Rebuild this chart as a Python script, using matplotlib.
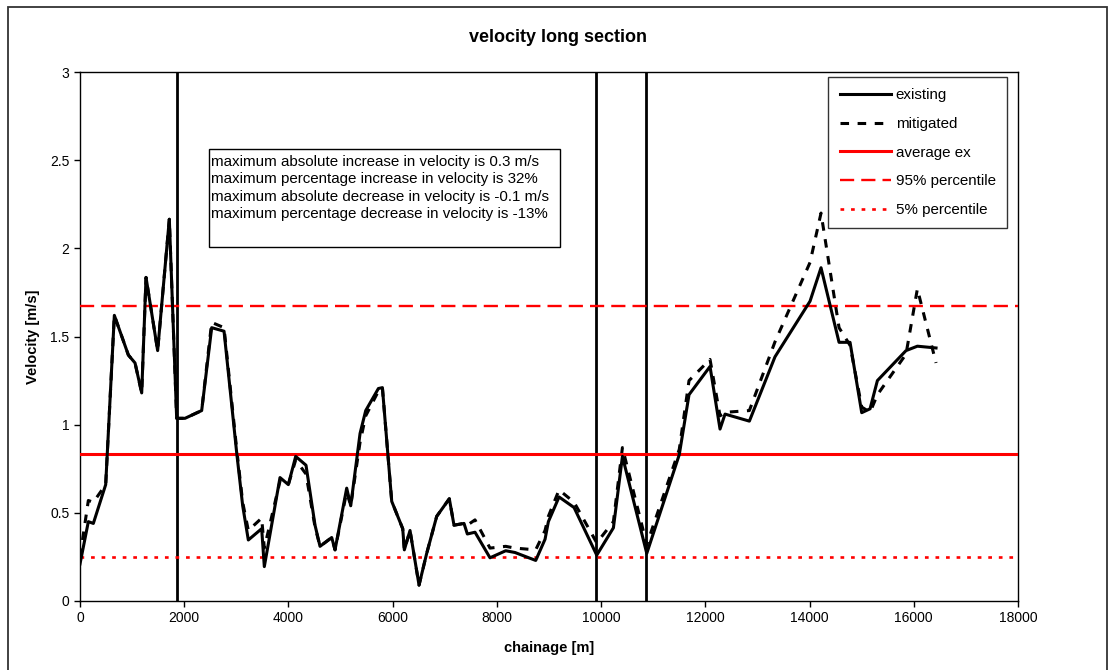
import matplotlib
matplotlib.use("Agg")
import matplotlib.pyplot as plt
from matplotlib.patches import Rectangle

plt.rcParams['font.family'] = ['Liberation Sans', 'DejaVu Sans']

# chainage [m] and velocities [m/s]
chainage = [0, 160, 256, 493, 659, 928, 1056, 1184, 1267, 1490, 1714, 1855, 2015, 2335,
            2527, 2764, 3007, 3122, 3230, 3486, 3537, 3838, 3998, 4139, 4337, 4510, 4606,
            4830, 4894, 5118, 5195, 5374, 5483, 5726, 5803, 5982, 6193, 6224, 6333, 6506,
            6653, 6845, 7087, 7177, 7369, 7433, 7580, 7868, 8169, 8348, 8745, 8924, 8988,
            9193, 9481, 9916, 10236, 10409, 10876, 11500, 11687, 12090, 12282, 12378,
            12845, 13337, 14009, 14220, 14566, 14777, 15001, 15161, 15302, 15851, 16069,
            16427]

existing = [0.21, 0.45, 0.44, 0.66, 1.62, 1.395, 1.35, 1.18, 1.835, 1.42, 2.165, 1.036,
            1.036, 1.08, 1.55, 1.53, 0.84, 0.54, 0.346, 0.41, 0.195, 0.70, 0.66, 0.82, 0.77,
            0.43, 0.31, 0.36, 0.29, 0.64, 0.54, 0.95, 1.08, 1.205, 1.21, 0.565, 0.41, 0.29,
            0.40, 0.09, 0.27, 0.48, 0.58, 0.43, 0.44, 0.38, 0.39, 0.245, 0.285, 0.275, 0.23,
            0.35, 0.45, 0.59, 0.53, 0.26, 0.415, 0.82, 0.27, 0.83, 1.17, 1.33, 0.975, 1.06,
            1.02, 1.385, 1.70, 1.89, 1.467, 1.467, 1.068, 1.09, 1.25, 1.42, 1.445, 1.435]

mitigated = [0.25, 0.57, 0.56, 0.66, 1.62, 1.395, 1.35, 1.18, 1.835, 1.42, 2.165, 1.036,
             1.036, 1.08, 1.58, 1.55, 0.86, 0.56, 0.40, 0.47, 0.30, 0.68, 0.66, 0.80, 0.72,
             0.42, 0.31, 0.36, 0.29, 0.62, 0.54, 0.90, 1.05, 1.19, 1.21, 0.565, 0.41, 0.29,
             0.40, 0.09, 0.27, 0.48, 0.58, 0.43, 0.44, 0.43, 0.46, 0.30, 0.31, 0.30, 0.29,
             0.40, 0.48, 0.63, 0.56, 0.33, 0.45, 0.87, 0.32, 0.86, 1.25, 1.37, 1.05, 1.07,
             1.08, 1.47, 1.92, 2.20, 1.55, 1.45, 1.10, 1.07, 1.17, 1.40, 1.77, 1.35]

average_ex = 0.833
pct95 = 1.673
pct5 = 0.251
structures = [1860, 9905, 10865]

summary_lines = [
    "maximum absolute increase in velocity is 0.3 m/s",
    "maximum percentage increase in velocity is 32%",
    "maximum absolute decrease in velocity is -0.1 m/s",
    "maximum percentage decrease in velocity is -13%",
]

W, H = 1108, 670
fig = plt.figure(figsize=(W / 100, H / 100), dpi=100)
ax = fig.add_axes([80 / W, 69 / H, 938 / W, 529 / H])

# chart-area frame
fig.patches.append(Rectangle((8 / W, -0.01), 1099 / W, (663 / H) + 0.01,
                             transform=fig.transFigure, fill=False,
                             edgecolor='#333333', linewidth=1.3))

for xs in structures:
    ax.axvline(xs, color='black', linewidth=2.0, zorder=2)

ax.plot(chainage, existing, color='black', linewidth=2.2, label='existing', zorder=4)
ax.plot(chainage, mitigated, color='black', linewidth=2.2, linestyle=(0, (2.8, 2.8)),
        label='mitigated', zorder=3)
ax.axhline(average_ex, color='#ff0000', linewidth=2.2, label='average ex', zorder=3)
ax.axhline(pct95, color='#ff0000', linewidth=1.7, linestyle=(0, (6, 3)),
           label='95% percentile', zorder=3)
ax.axhline(pct5, color='#ff0000', linewidth=1.9, linestyle=(0, (1.4, 2.6)),
           label='5% percentile', zorder=3)

ax.set_xlim(0, 18000)
ax.set_ylim(0, 3)
ax.set_xticks(range(0, 18001, 2000))
ax.set_yticks([0, 0.5, 1, 1.5, 2, 2.5, 3])
ax.set_yticklabels(['0', '0.5', '1', '1.5', '2', '2.5', '3'])
ax.tick_params(direction='out', length=4, width=1, labelsize=10, colors='black')
for sp in ax.spines.values():
    sp.set_linewidth(1.0)
    sp.set_color('black')

ax.set_xlabel('chainage [m]', fontsize=10.5, fontweight='bold', labelpad=11)
ax.set_ylabel('Velocity [m/s]', fontsize=10.5, fontweight='bold', labelpad=7)
fig.text(558 / W, 1 - 37 / H, 'velocity long section',
         ha='center', va='center', fontsize=13, fontweight='bold')

leg = ax.legend(loc='upper right', bbox_to_anchor=(1 - 11 / 938, 1 - 5 / 529),
                fontsize=10.9, frameon=True, fancybox=False, edgecolor='black',
                handlelength=3.4, labelspacing=0.97, borderpad=0.75, handletextpad=0.3,
                borderaxespad=0)
leg.get_frame().set_linewidth(1.0)

# summary box
ax.add_patch(Rectangle(((209 - 80) / 938, (601 - 247) / 529), 351 / 938, 98 / 529,
                       transform=ax.transAxes, fill=True, facecolor='white',
                       edgecolor='black', linewidth=1.0, zorder=5))
ax.text((211 - 80) / 938, (601 - 155) / 529, "\n".join(summary_lines),
        transform=ax.transAxes, ha='left', va='top', fontsize=10.9,
        linespacing=1.3, zorder=6)

fig.savefig('out.png', dpi=100)
